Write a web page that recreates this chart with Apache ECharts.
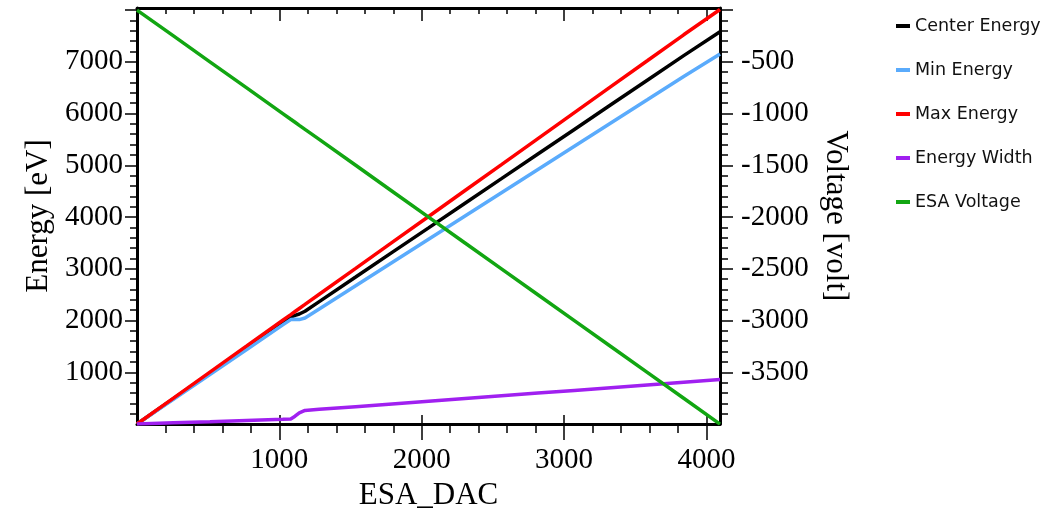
<!DOCTYPE html>
<html>
<head>
<meta charset="utf-8">
<title>ESA energy vs DAC</title>
<script src="https://cdn.jsdelivr.net/npm/echarts@6/dist/echarts.min.js"></script>
<style>
  html, body { margin: 0; padding: 0; background: #ffffff; }
  #chart { width: 1045px; height: 516px; }
</style>
</head>
<body>
<div id="chart"></div>
<script>
// DAC settings at which the sweep is sampled
const dac = [0, 256, 512, 768, 1024, 1080, 1110, 1140, 1180, 1280, 1536, 1792, 2048, 2304, 2560, 2816, 3072, 3328, 3584, 3840, 4095];

// Energies in eV
const centerEnergy = [0, 490, 981, 1470, 1961, 2067, 2099, 2126, 2180, 2366, 2841, 3317, 3791, 4267, 4742, 5218, 5693, 6169, 6643, 7119, 7581];
const minEnergy    = [0, 478, 958, 1436, 1916, 2018, 2024, 2018, 2049, 2224, 2673, 3123, 3571, 4021, 4470, 4919, 5368, 5818, 6266, 6716, 7152];
const maxEnergy    = [0, 501, 1003, 1504, 2006, 2115, 2174, 2233, 2311, 2507, 3008, 3510, 4011, 4513, 5014, 5516, 6017, 6519, 7020, 7522, 8010];
const energyWidth  = [0, 23, 45, 68, 90, 97, 150, 215, 262, 283, 335, 387, 440, 492, 544, 597, 649, 701, 754, 806, 858];

// Analyzer voltage in volts
const esaVoltage   = [0, -250, -500, -750, -1000, -1055, -1084, -1114, -1153, -1250, -1500, -1751, -2001, -2251, -2501, -2751, -3001, -3251, -3501, -3751, -4001];

// Axis ranges and labelled ticks
const xRange = [0, 4095];
const energyRange = [0, 8040];
const voltRange = [-4000, 20];
const xTickLabels = [1000, 2000, 3000, 4000];
const energyTickLabels = [1000, 2000, 3000, 4000, 5000, 6000, 7000];
const energyTicks = [1000, 2000, 3000, 4000, 5000, 6000, 7000, 8000];
const voltTickLabels = [-3500, -3000, -2500, -2000, -1500, -1000, -500];
const voltTicks = [-3500, -3000, -2500, -2000, -1500, -1000, -500, 0];

const seriesNames = ['Center Energy', 'Min Energy', 'Max Energy', 'Energy Width', 'ESA Voltage'];
const seriesColors = ['#000000', '#5aabfc', '#ff0000', '#a020f0', '#12a612'];

const pairs = (ys) => dac.map((x, i) => [x, ys[i]]);
const onlyListed = (list) => (v) => (list.indexOf(v) >= 0 ? String(v) : '');

const serif = "'Liberation Serif', 'DejaVu Serif', serif";
const sans = "'DejaVu Sans', sans-serif";
const ink = '#000000';

const tickLabel = { fontFamily: serif, fontSize: 29, color: ink };
const axisName = { fontFamily: serif, fontSize: 31, color: ink };

const chart = echarts.init(document.getElementById('chart'), null, { renderer: 'canvas' });

const lineSeries = (i, ys, yIdx) => ({
  name: seriesNames[i],
  type: 'line',
  xAxisIndex: 0,
  yAxisIndex: yIdx,
  data: pairs(ys),
  showSymbol: false,
  symbol: 'none',
  lineStyle: { color: seriesColors[i], width: 3.5 },
  itemStyle: { color: seriesColors[i] },
  emphasis: { disabled: true },
  z: 2 + i
});

chart.setOption({
  animation: false,
  backgroundColor: '#ffffff',
  grid: { left: 137, right: 325, top: 8, bottom: 91, containLabel: false },
  legend: {
    orient: 'vertical',
    left: 891,
    top: 11,
    itemWidth: 14,
    itemHeight: 4,
    itemGap: 24,
    icon: 'rect',
    selectedMode: false,
    textStyle: { fontFamily: sans, fontSize: 17.5, color: '#111111', lineHeight: 20 },
    data: seriesNames
  },
  xAxis: [
    {
      type: 'value', position: 'bottom',
      min: xRange[0], max: xRange[1], interval: 1000,
      name: 'ESA_DAC', nameLocation: 'middle', nameGap: 56, nameTextStyle: axisName,
      axisLine: { show: true, onZero: false, lineStyle: { color: ink, width: 3 } },
      axisTick: { show: true, inside: false, length: 16, customValues: xTickLabels, lineStyle: { color: ink, width: 1.5 } },
      minorTick: { show: true, splitNumber: 5, length: 9, lineStyle: { color: ink, width: 1.5 } },
      axisLabel: { margin: 22, customValues: xTickLabels, formatter: onlyListed(xTickLabels), ...tickLabel },
      splitLine: { show: false }
    },
    {
      type: 'value', position: 'top',
      min: xRange[0], max: xRange[1], interval: 1000,
      axisLine: { show: true, onZero: false, lineStyle: { color: ink, width: 3 } },
      axisTick: { show: true, inside: true, length: 13, customValues: xTickLabels, lineStyle: { color: ink, width: 1.5 } },
      minorTick: { show: true, splitNumber: 5, length: 6, lineStyle: { color: ink, width: 1.5 } },
      axisLabel: { show: false },
      splitLine: { show: false }
    },
    {
      type: 'value', position: 'bottom',
      min: xRange[0], max: xRange[1], interval: 1000,
      axisLine: { show: false, onZero: false },
      axisTick: { show: true, inside: true, length: 9, customValues: xTickLabels, lineStyle: { color: ink, width: 1.5 } },
      minorTick: { show: false },
      axisLabel: { show: false },
      splitLine: { show: false }
    }
  ],
  yAxis: [
    {
      type: 'value', position: 'left',
      min: energyRange[0], max: energyRange[1], interval: 1000,
      name: 'Energy [eV]', nameLocation: 'middle', nameRotate: 90, nameGap: 81, nameTextStyle: axisName,
      axisLine: { show: true, onZero: false, lineStyle: { color: ink, width: 3 } },
      axisTick: { show: true, inside: false, length: 12, customValues: energyTicks, lineStyle: { color: ink, width: 1.5 } },
      minorTick: { show: true, splitNumber: 5, length: 7, lineStyle: { color: ink, width: 1.5 } },
      axisLabel: { margin: 14, customValues: energyTickLabels, formatter: onlyListed(energyTickLabels), ...tickLabel },
      splitLine: { show: false }
    },
    {
      type: 'value', position: 'right',
      min: voltRange[0], max: voltRange[1], interval: 500,
      name: 'Voltage [volt]', nameLocation: 'middle', nameRotate: -90, nameGap: 97, nameTextStyle: axisName,
      axisLine: { show: true, onZero: false, lineStyle: { color: ink, width: 3 } },
      axisTick: { show: true, inside: false, length: 13, customValues: voltTicks, lineStyle: { color: ink, width: 1.5 } },
      minorTick: { show: true, splitNumber: 5, length: 8, lineStyle: { color: ink, width: 1.5 } },
      axisLabel: { margin: 21, customValues: voltTickLabels, formatter: onlyListed(voltTickLabels), ...tickLabel },
      splitLine: { show: false }
    }
  ],
  series: [
    lineSeries(0, centerEnergy, 0),
    lineSeries(1, minEnergy, 0),
    lineSeries(2, maxEnergy, 0),
    lineSeries(3, energyWidth, 0),
    lineSeries(4, esaVoltage, 1)
  ]
});
</script>
</body>
</html>
